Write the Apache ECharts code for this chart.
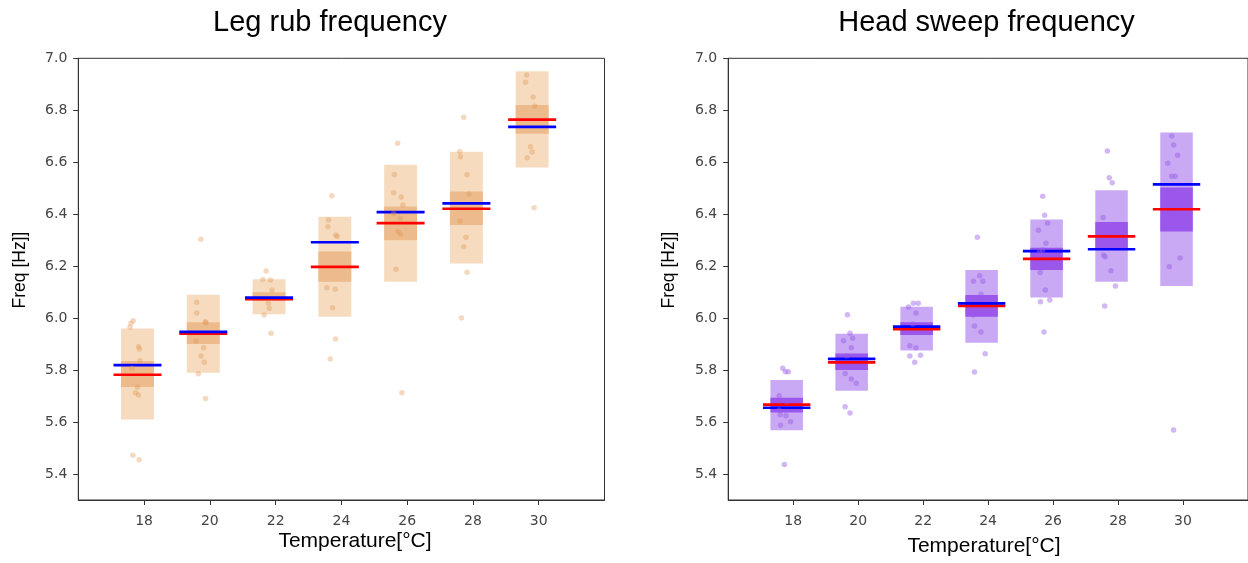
<!DOCTYPE html>
<html>
<head>
<meta charset="utf-8">
<script src="https://cdn.jsdelivr.net/npm/echarts@6/dist/echarts.min.js"></script>
<style>
    html, body { margin: 0; padding: 0; background: #fff; }
    #chart { width: 1248px; height: 563px; }
</style>
</head>
<body>
<div id="chart"></div>
<script>
// temperatures (°C) and axis ticks
var temps = [18, 20, 22, 24, 26, 28, 30];
var xTicks = [18, 20, 22, 24, 26, 28, 30];
var yTicks = [5.4, 5.6, 5.8, 6.0, 6.2, 6.4, 6.6, 6.8, 7.0];

// Leg rub frequency
var legOuterLow = [5.61, 5.79, 6.015, 6.005, 6.14, 6.21, 6.58];
var legOuterHigh = [5.96, 6.09, 6.15, 6.39, 6.59, 6.64, 6.95];
var legInnerLow = [5.735, 5.90, 6.067, 6.14, 6.30, 6.358, 6.71];
var legInnerHigh = [5.835, 5.984, 6.10, 6.256, 6.43, 6.487, 6.82];
var legMedian = [5.782, 5.940, 6.073, 6.197, 6.366, 6.421, 6.764];
var legMean = [5.819, 5.947, 6.079, 6.292, 6.408, 6.442, 6.736];
var legPoints = [
    [17.67, 5.990], [17.60, 5.980], [17.57, 5.965], [17.83, 5.890], [17.86, 5.881], [17.88, 5.836],
    [17.63, 5.807], [17.80, 5.734], [17.74, 5.713], [17.83, 5.704], [17.66, 5.472], [17.85, 5.455],
    [19.73, 6.304], [19.60, 6.061], [19.60, 6.020], [19.86, 5.986], [19.88, 5.982], [19.58, 5.912],
    [19.81, 5.886], [19.73, 5.854], [19.83, 5.830], [19.65, 5.786], [19.87, 5.691],
    [21.71, 6.181], [21.61, 6.149], [21.84, 6.147], [21.89, 6.108], [21.78, 6.057], [21.81, 6.038],
    [21.65, 6.012], [21.86, 5.942],
    [23.71, 6.471], [23.61, 6.378], [23.59, 6.352], [23.83, 6.320], [23.87, 6.314], [23.56, 6.117],
    [23.81, 6.111], [23.73, 6.040], [23.82, 5.920], [23.66, 5.843],
    [25.71, 6.673], [25.61, 6.553], [25.59, 6.483], [25.82, 6.466], [25.87, 6.435], [25.59, 6.403],
    [25.79, 6.384], [25.72, 6.333], [25.79, 6.323], [25.66, 6.188], [25.84, 5.713],
    [27.72, 6.773], [27.60, 6.641], [27.62, 6.621], [27.82, 6.552], [27.88, 6.478], [27.60, 6.374],
    [27.79, 6.311], [27.72, 6.275], [27.82, 6.177], [27.65, 6.000],
    [29.63, 6.936], [29.60, 6.908], [29.83, 6.851], [29.88, 6.816], [29.75, 6.660], [29.80, 6.639],
    [29.65, 6.617], [29.86, 6.425]
];

// Head sweep frequency
var headOuterLow = [5.568, 5.720, 5.875, 5.905, 6.079, 6.140, 6.124];
var headOuterHigh = [5.762, 5.940, 6.044, 6.185, 6.380, 6.492, 6.714];
var headInnerLow = [5.637, 5.800, 5.935, 6.005, 6.185, 6.262, 6.333];
var headInnerHigh = [5.694, 5.864, 5.984, 6.089, 6.271, 6.370, 6.503];
var headMedian = [5.667, 5.830, 5.958, 6.047, 6.228, 6.315, 6.419];
var headMean = [5.655, 5.843, 5.967, 6.057, 6.258, 6.265, 6.515];
var headPoints = [
    [17.68, 5.807], [17.76, 5.794], [17.85, 5.794], [17.57, 5.701], [17.80, 5.678], [17.57, 5.646],
    [17.60, 5.628], [17.78, 5.624], [17.92, 5.601], [17.61, 5.588], [17.73, 5.437],
    [19.67, 6.013], [19.75, 5.942], [19.83, 5.923], [19.55, 5.913], [19.79, 5.886], [19.65, 5.854],
    [19.60, 5.787], [19.79, 5.766], [19.94, 5.749], [19.60, 5.659], [19.75, 5.635],
    [21.55, 6.043], [21.70, 6.057], [21.85, 6.057], [21.78, 6.020], [21.68, 5.977], [21.59, 5.894],
    [21.78, 5.886], [21.59, 5.854], [21.92, 5.857], [21.74, 5.830],
    [23.67, 6.311], [23.74, 6.163], [23.55, 6.142], [23.84, 6.142], [23.78, 6.092], [23.55, 6.012],
    [23.58, 5.970], [23.78, 5.947], [23.91, 5.863], [23.58, 5.793],
    [25.68, 6.469], [25.74, 6.396], [25.83, 6.365], [25.55, 6.338], [25.78, 6.288], [25.58, 6.256],
    [25.68, 6.262], [25.60, 6.176], [25.76, 6.108], [25.61, 6.063], [25.90, 6.070], [25.72, 5.947],
    [27.67, 6.643], [27.73, 6.540], [27.82, 6.521], [27.54, 6.387], [27.78, 6.298], [27.55, 6.243],
    [27.60, 6.236], [27.78, 6.182], [27.92, 6.124], [27.59, 6.047],
    [29.65, 6.701], [29.71, 6.666], [29.83, 6.627], [29.53, 6.596], [29.65, 6.546], [29.76, 6.546],
    [29.56, 6.485], [29.58, 6.435], [29.76, 6.402], [29.91, 6.231], [29.58, 6.198], [29.71, 5.569]
];

var BOX_SHIFT = -0.2;   // boxes sit a little left of the tick
var BOX_HALF = 0.5;
var LINE_HALF = 0.73;

function rows(low, high) {
    return temps.map(function (t, i) { return [t, low[i], high[i]]; });
}
function levels(vals) {
    return temps.map(function (t, i) { return [t, vals[i]]; });
}

function boxSeries(idx, data, color) {
    return {
        type: 'custom',
        xAxisIndex: idx,
        yAxisIndex: idx,
        data: data,
        silent: true,
        renderItem: function (params, api) {
            var c = api.value(0) + BOX_SHIFT;
            var p1 = api.coord([c - BOX_HALF, api.value(2)]);
            var p2 = api.coord([c + BOX_HALF, api.value(1)]);
            return {
                type: 'rect',
                shape: { x: p1[0], y: p1[1], width: p2[0] - p1[0], height: p2[1] - p1[1] },
                style: { fill: color }
            };
        }
    };
}

function levelSeries(idx, data, color) {
    return {
        type: 'custom',
        xAxisIndex: idx,
        yAxisIndex: idx,
        data: data,
        silent: true,
        renderItem: function (params, api) {
            var c = api.value(0) + BOX_SHIFT;
            var p1 = api.coord([c - LINE_HALF, api.value(1)]);
            var p2 = api.coord([c + LINE_HALF, api.value(1)]);
            return {
                type: 'line',
                shape: { x1: p1[0], y1: p1[1], x2: p2[0], y2: p2[1] },
                style: { stroke: color, lineWidth: 2.7 }
            };
        }
    };
}

function pointSeries(idx, data, color) {
    return {
        type: 'scatter',
        xAxisIndex: idx,
        yAxisIndex: idx,
        data: data,
        symbolSize: 5.5,
        silent: true,
        itemStyle: { color: color }
    };
}

function xAxisFor(idx) {
    return {
        type: 'value', gridIndex: idx, min: 16, max: 32,
        splitLine: { show: false },
        axisLine: { show: true, lineStyle: { color: '#333', width: 1 } },
        axisTick: { show: true, customValues: xTicks, length: 5, lineStyle: { color: '#333' } },
        axisLabel: {
            customValues: xTicks, margin: 14, fontSize: 14, color: '#444',
            fontFamily: 'DejaVu Sans'
        }
    };
}
function yAxisFor(idx) {
    return {
        type: 'value', gridIndex: idx, min: 5.3, max: 7.0,
        splitLine: { show: false },
        axisLine: { show: true, lineStyle: { color: '#333', width: 1 } },
        axisTick: { show: true, customValues: yTicks, length: 5, lineStyle: { color: '#333' } },
        axisLabel: {
            customValues: yTicks, margin: 11, fontSize: 14, color: '#444',
            fontFamily: 'DejaVu Sans',
            formatter: function (v) { return Number(v).toFixed(1); }
        }
    };
}

function label(text, x, y, size, rot) {
    return {
        type: 'text', x: x, y: y, rotation: rot || 0, silent: true,
        style: {
            text: text, fill: '#000', fontSize: size, fontFamily: 'Liberation Sans',
            textAlign: 'center', textVerticalAlign: 'middle'
        }
    };
}

var chart = echarts.init(document.getElementById('chart'));
var option = {
    animation: false,
    backgroundColor: '#fff',
    grid: [
        { left: 78.3, top: 58.3, width: 526.2, height: 441.7, show: true, borderColor: '#333', borderWidth: 1 },
        { left: 728.2, top: 58.3, width: 526.3, height: 441.7, show: true, borderColor: '#333', borderWidth: 1 }
    ],
    xAxis: [xAxisFor(0), xAxisFor(1)],
    yAxis: [yAxisFor(0), yAxisFor(1)],
    graphic: [
        label('Leg rub frequency', 330, 23, 29),
        label('Head sweep frequency', 986.5, 23, 29),
        label('Temperature[°C]', 355, 541, 21),
        label('Temperature[°C]', 984, 546, 21),
        label('Freq [Hz]]', 20.5, 270, 17.5, Math.PI / 2),
        label('Freq [Hz]]', 669, 270, 17.5, Math.PI / 2)
    ],
    series: [
        boxSeries(0, rows(legOuterLow, legOuterHigh), '#f6dbbf'),
        boxSeries(0, rows(legInnerLow, legInnerHigh), '#edba8b'),
        pointSeries(0, legPoints, 'rgba(225,150,80,0.45)'),
        levelSeries(0, levels(legMedian), '#ff0000'),
        levelSeries(0, levels(legMean), '#0000ff'),

        boxSeries(1, rows(headOuterLow, headOuterHigh), '#c9a8f4'),
        boxSeries(1, rows(headInnerLow, headInnerHigh), '#9b56ec'),
        pointSeries(1, headPoints, 'rgba(150,90,230,0.55)'),
        levelSeries(1, levels(headMedian), '#ff0000'),
        levelSeries(1, levels(headMean), '#0000ff')
    ]
};
chart.setOption(option);
</script>
</body>
</html>
